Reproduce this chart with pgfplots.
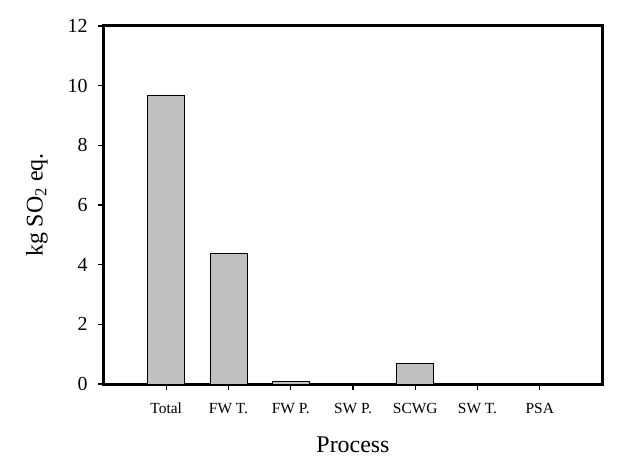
\documentclass[border=0pt]{standalone}
\usepackage{fontspec}
\setmainfont{Liberation Serif}
\usepackage{pgfplots}
\pgfplotsset{compat=1.18}
\begin{document}
\begin{tikzpicture}
\useasboundingbox (-104bp,-85bp) rectangle (536bp,384bp);
\begin{axis}[
  at={(0,0)}, anchor=south west,
  scale only axis,
  width=498bp, height=358bp,
  xmin=0, xmax=8, ymin=0, ymax=12,
  ytick={0,2,4,6,8,10,12},
  xtick={1,2,3,4,5,6,7},
  xticklabels={Total,FW T.,FW P.,SW P.,SCWG,SW T.,PSA},
  axis line style={line width=3bp},
  tick style={line width=1.2bp, black},
  major tick length=6bp,
  tick align=outside,
  xtick pos=bottom, ytick pos=left,
  /pgf/number format/assume math mode=true,
  yticklabel style={font=\fontsize{20}{24}\selectfont, xshift=-7bp},
  xticklabel style={font=\fontsize{15.5}{18}\selectfont, yshift=-9bp, text height=11bp, text depth=3bp},
  ylabel={kg SO\textsubscript{2} eq.},
  xlabel={Process},
  ylabel style={font=\fontsize{24}{28}\selectfont, at={(axis description cs:-0.1345,0.5)}, anchor=center, rotate=0},
  xlabel style={font=\fontsize{24}{28}\selectfont, at={(axis description cs:0.5,-0.1927)}, anchor=base},
  ybar, bar width=37bp,
  clip=false,
]
\addplot[fill={rgb,255:red,192;green,192;blue,192}, draw=black, line width=0.8bp]
  coordinates {(1,9.69) (2,4.37) (3,0.08) (4,0.01) (5,0.70) (6,0.01) (7,0.01)};
\end{axis}
\end{tikzpicture}
\end{document}
